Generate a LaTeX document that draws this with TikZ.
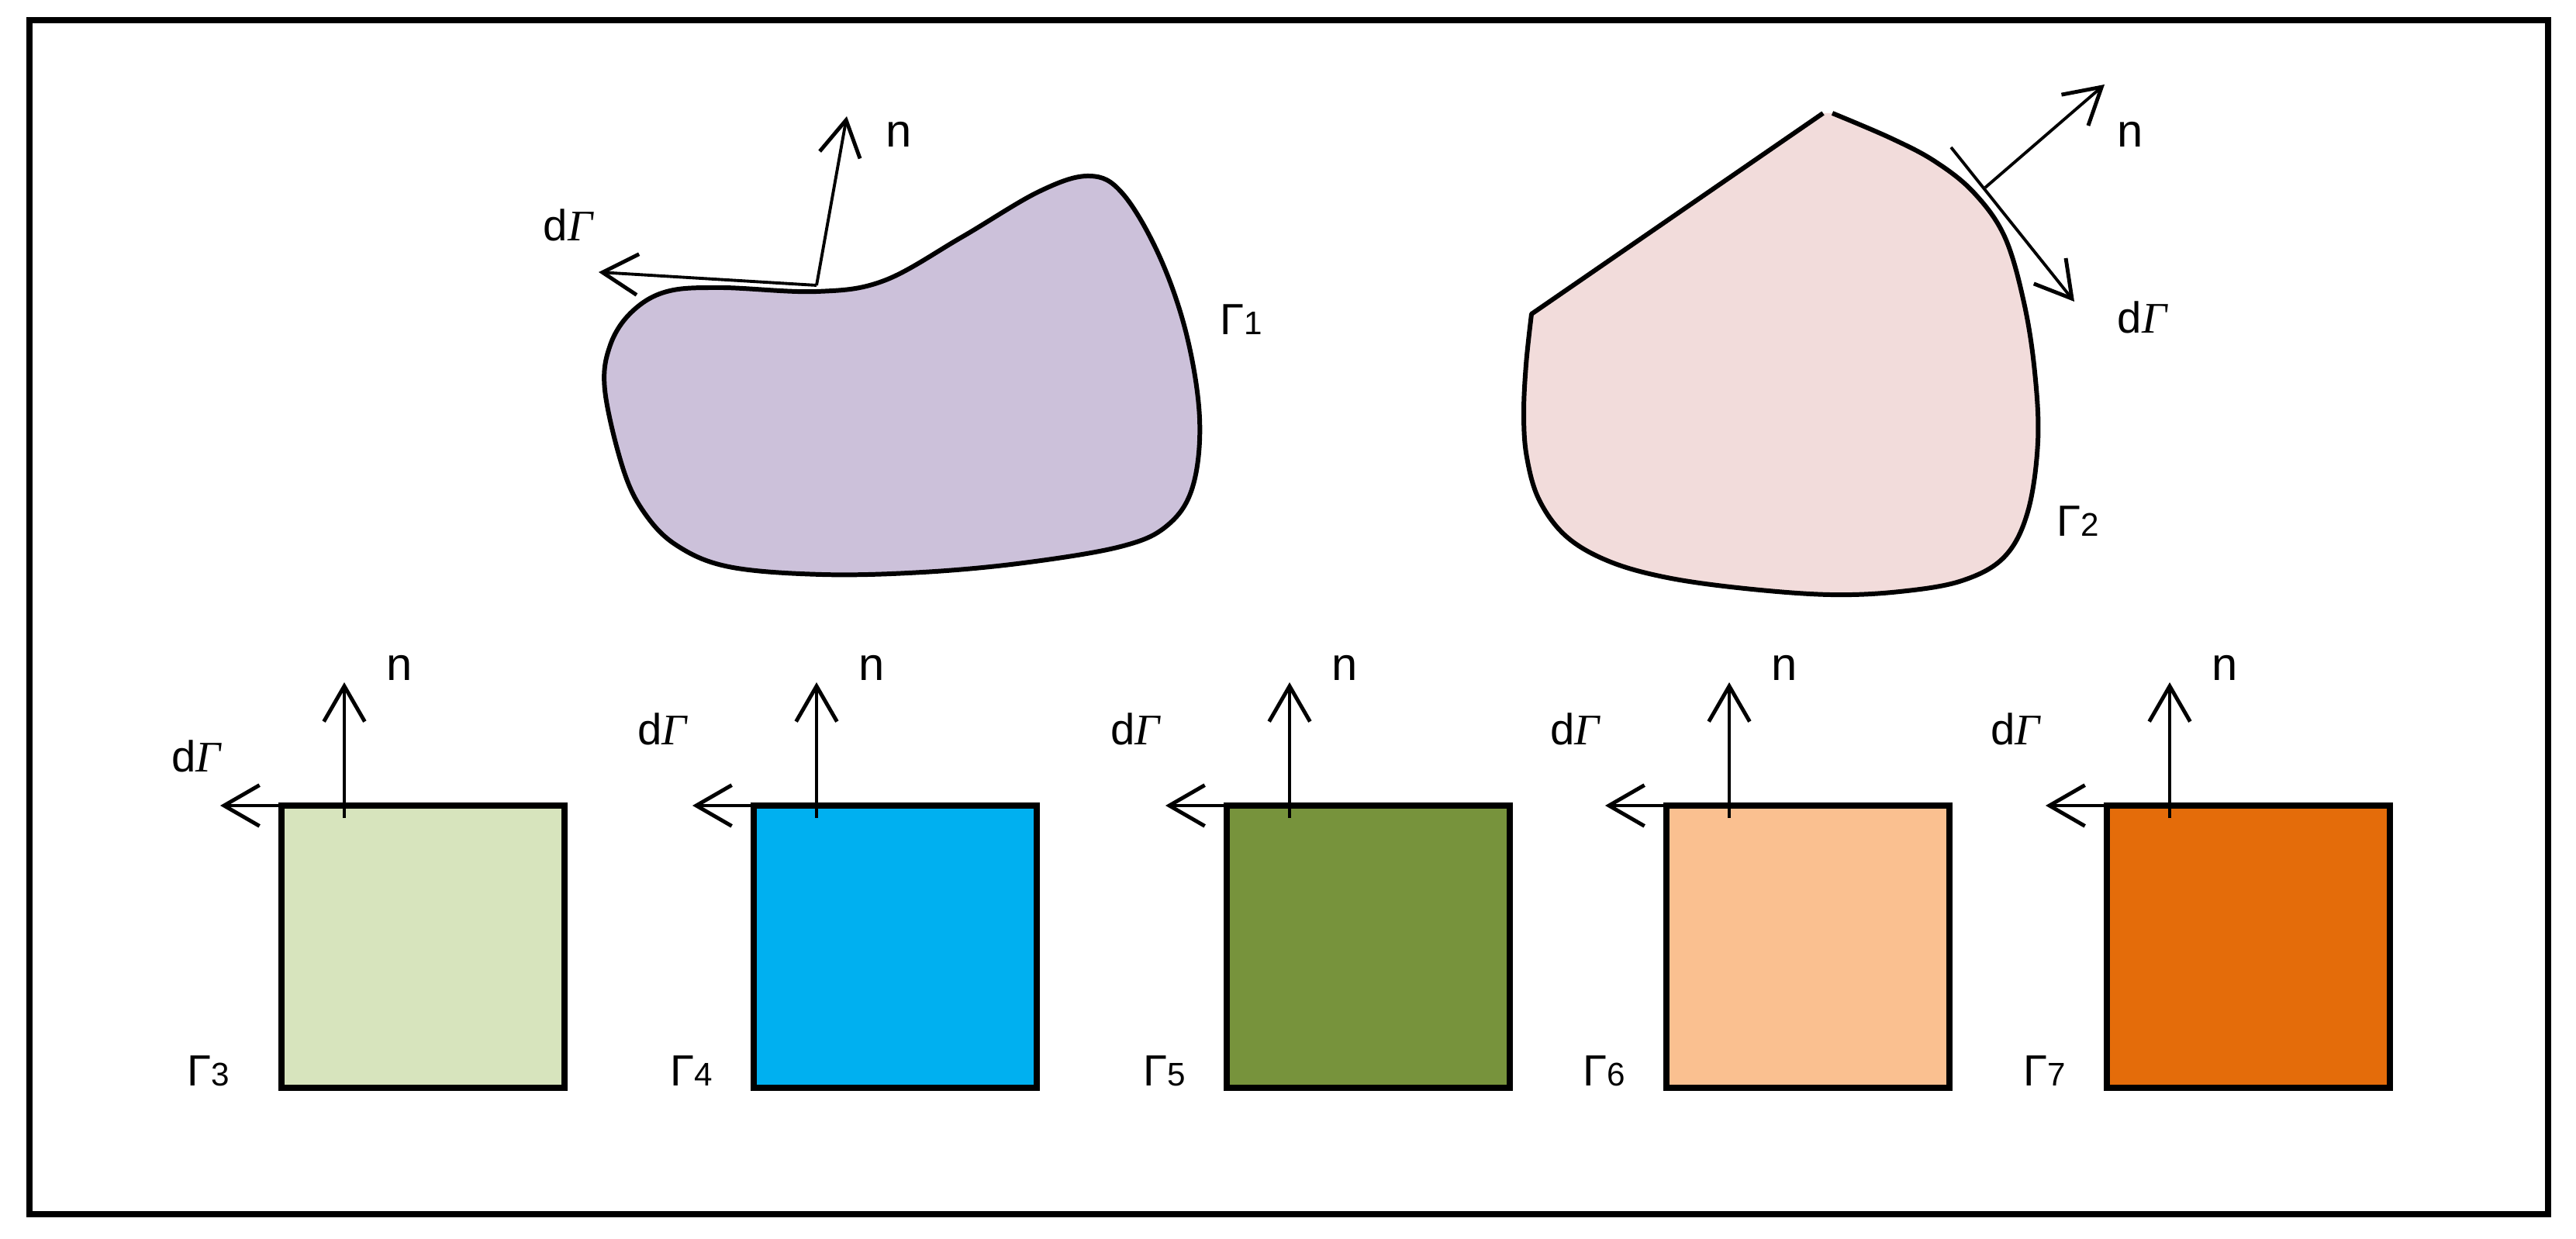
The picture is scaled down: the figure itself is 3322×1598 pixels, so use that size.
\documentclass[tikz,border=0pt]{standalone}
\usepackage{fontspec}
\setmainfont{Liberation Sans}
\newfontfamily\gserif{Liberation Serif}
\usetikzlibrary{arrows.meta}
\definecolor{cpurple}{HTML}{CCC1DA}
\definecolor{cpink}{HTML}{F2DCDB}
\definecolor{cgreenl}{HTML}{D7E4BD}
\definecolor{cblue}{HTML}{00B0F0}
\definecolor{colive}{HTML}{77933C}
\definecolor{corangel}{HTML}{FAC090}
\definecolor{corange}{HTML}{E46C0A}
\newcommand\dGam{d{\gserif\itshape Γ}}
\newcommand\GamLbl[1]{Γ{\fontsize{12}{14}\selectfont #1}}
\begin{document}
\begin{tikzpicture}[x=0.01cm,y=-0.01cm,
  frameline/.style={line width=2.1pt},
  blobline/.style={line width=1.7pt, line join=round},
  sqline/.style={line width=2.1pt},
  vec/.style={line width=1.1pt, -{Straight Barb[length=13pt,width=15pt,line width=1.4pt]}},
  lbl/.style={inner sep=0pt, font=\fontsize{16}{19}\selectfont},
  nlbl/.style={inner sep=0pt, font=\fontsize{17}{20}\selectfont}]
\useasboundingbox (0,0) rectangle (3322,1598);
\fill[white] (0,0) rectangle (3322,1598);
\draw[frameline] (38,26) rectangle (3286,1566);

% ---- purple blob (Gamma 1)
\filldraw[fill=cpurple, blobline] plot[smooth cycle, tension=0.6] coordinates {
 (780,503) (787,445) (815,402) (860,376) (930,371) (1053,376)
 (1140,362) (1240,306) (1340,247) (1405,227) (1448,250) (1495,330)
 (1530,431) (1547,540) (1538,628) (1505,678) (1445,705) (1320,726) (1190,738)
 (1060,741) (940,731) (872,703) (830,660) (803,603)};
\coordinate (p1) at (1053,368);
\coordinate (p1n) at (1092,150);
\coordinate (p1t) at (772,351);
\draw[vec] (p1) -- (p1n);
\draw[vec] (p1) -- (p1t);
\node[nlbl, anchor=base west] (n1) at (1142,190) {n};
\node[lbl, anchor=base west] (d1) at (700,311) {\dGam};
\node[lbl, anchor=base west] (g1) at (1573,432) {\GamLbl{1}};

% ---- pink blob (Gamma 2)
\fill[cpink] plot[smooth, tension=0.6] coordinates {
 (2363,146) (2438,178) (2495,208) (2545,248) (2585,305) (2610,390) (2624,480)
 (2628,570) (2615,660) (2585,718) (2530,749) (2450,763) (2360,767) (2250,759)
 (2150,745) (2075,724) (2020,692) (1985,645) (1969,590) (1965,535)
 (1968,470) (1975,405)} -- (2351,146) -- cycle;
\draw[blobline] plot[smooth, tension=0.6] coordinates {
 (2363,146) (2438,178) (2495,208) (2545,248) (2585,305) (2610,390) (2624,480)
 (2628,570) (2615,660) (2585,718) (2530,749) (2450,763) (2360,767) (2250,759)
 (2150,745) (2075,724) (2020,692) (1985,645) (1969,590) (1965,535)
 (1968,470) (1975,405)} -- (2351,146);
\coordinate (p2s) at (2516,190);
\coordinate (p2t) at (2675,389);
\coordinate (p2a) at (2560,242);
\coordinate (p2n) at (2714,109);
\draw[vec] (p2s) -- (p2t);
\draw[vec] (p2a) -- (p2n);
\node[nlbl, anchor=base west] (n2) at (2730,190) {n};
\node[lbl, anchor=base west] (d2) at (2730,430) {\dGam};
\node[lbl, anchor=base west] (g2) at (2652,692) {\GamLbl{2}};

% ---- squares
\foreach \i/\x/\c/\dy/\gx in {3/363/cgreenl/35/66, 4/972/cblue/0/52, 5/1582/colive/0/52, 6/2149/corangel/0/52, 7/2717/corange/0/52} {
  \draw[sqline, fill=\c] (\x,1039) rectangle +(365,364);
  \coordinate (c\i) at (\x,1039);
  \coordinate (b\i) at (\x+81,1055);
  \coordinate (nt\i) at (\x+81,880);
  \coordinate (dt\i) at (\x-79,1039);
  \draw[vec] (b\i) -- (nt\i);
  \draw[vec] (c\i) -- (dt\i);
  \node[nlbl, anchor=base west] (n\i) at (\x+135,877) {n};
  \node[lbl, anchor=base east] (d\i) at (\x-86+\dy*0.23,960+\dy) {\dGam};
  \node[lbl, anchor=base east] (g\i) at (\x-\gx,1400) {\GamLbl{\i}};
}
\end{tikzpicture}
\end{document}
